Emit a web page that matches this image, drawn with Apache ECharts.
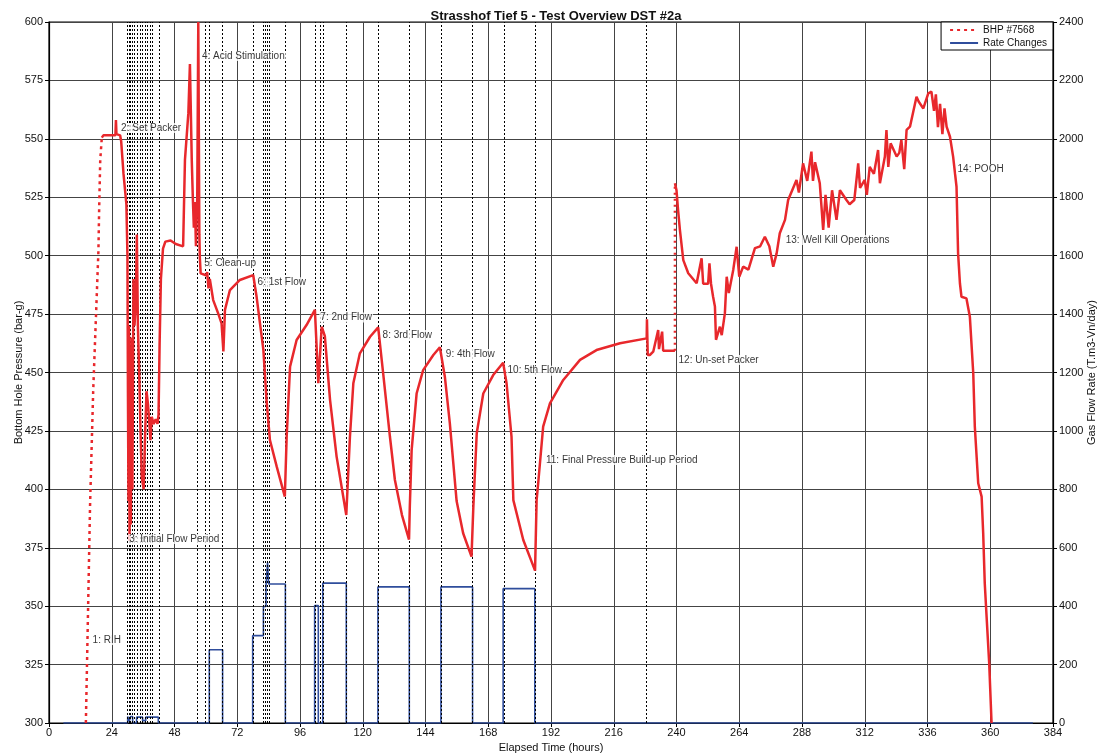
<!DOCTYPE html>
<html>
<head>
<meta charset="utf-8">
<script src="https://cdn.jsdelivr.net/npm/echarts@6/dist/echarts.min.js"></script>
<style>html,body{margin:0;padding:0;background:#fff;}#c{width:1102px;height:756px;}</style>
</head>
<body>
<div id="c"></div>
<script>
// ---- data (hours, bar-g) ----
const bhpRIH = [[14.1,300],[15.0,352],[15.7,393],[16.9,442],[18.2,481],[18.9,502],[19.2,521],[19.6,541],[20.2,550.5]];
const bhpTest = [[20.2,550.5],[20.8,551.5],[25.4,551.5],[25.6,558],[25.8,552],[27.2,551.5],[27.6,549],[28.5,535],[29.6,522],[30.0,500],[30.2,440],[30.4,395],[30.6,470],[30.8,378],[31.0,455],[31.3,385],[31.6,465],[31.9,400],[32.3,490],[32.7,470],[33.2,480],[33.6,509],[34.0,470],[34.5,450],[35.0,425],[35.5,405],[36.2,400],[36.8,425],[37.3,442],[37.9,436],[38.4,428],[38.8,421],[39.3,431],[40.0,428],[40.8,430],[41.5,428],[41.9,432],[42.3,462],[42.8,490],[43.6,503],[44.5,506],[46.5,506.5],[48.5,505],[51.3,504],[52.0,541],[53.3,561],[53.9,582],[54.6,541],[55.0,525],[55.4,512],[55.8,523],[56.2,504],[56.7,525],[57.1,600],[57.5,509],[57.7,499],[58.0,492.4],[60.3,491.5],[60.5,493],[61.0,486],[61.5,490],[62.8,481],[64.7,475.3],[66.0,471],[66.7,459],[67.3,476.8],[69.2,485.3],[73.0,489.6],[78.1,491.7],[79.4,482.4],[82.0,459.6],[83.2,438.2],[84.5,421.1],[87.1,409.7],[90.2,396.9],[90.9,422.5],[92.2,452.5],[94.7,463.9],[98.5,470.3],[101.7,476.8],[103.0,445.4],[104.3,469.6],[105.5,465.6],[107.5,438.2],[110.0,414],[113.7,389],[115.1,422.5],[116.4,445.4],[118.9,458.2],[122.8,465.3],[125.9,469.3],[127.8,449.7],[130.4,422.5],[132.3,404],[135.0,389],[137.7,378.5],[138.0,392.6],[138.7,416.8],[140.6,441],[143.1,451],[147.0,457.5],[149.5,460.8],[151.4,448.2],[153.3,428.3],[155.9,395],[158.4,381.2],[161.6,371.2],[162.3,392.6],[163.6,424],[166.1,441],[169.9,448.9],[173.7,454.2],[175.0,445.4],[176.9,422.5],[177.6,395.4],[181.4,378.3],[185.9,365.2],[186.5,395.4],[187.1,402.6],[189.0,426.8],[191.6,436.8],[196.7,446.8],[203.1,455.4],[209.4,459.6],[218.4,462.5],[228.6,464.6],[228.7,472.8],[229.0,457.5],[229.8,457.5],[231.1,458.9],[233.0,468.2],[233.3,460],[234.5,467.5],[234.9,459.3],[239.4,459.3]];
const bhpUnset = [[239.4,459.3],[239.4,531]];
const bhpKill = [[239.4,531],[240.0,528],[240.6,519.5],[241.3,511],[242.6,498.1],[244.5,492.5],[247.7,488.2],[249.6,498.9],[250.2,488],[252.1,488],[252.6,496.7],[253.2,488],[254.0,482.4],[254.7,478.2],[255.1,464],[256.6,469.6],[257.3,466],[258.5,475.3],[259.2,491],[260.0,484],[261.7,493.9],[263.0,503.8],[264.0,491],[265.5,495.3],[267.5,494],[270.0,503.2],[272.0,504],[273.8,508.1],[275.5,504],[277.0,495.3],[278.3,501],[279.5,509.6],[281.5,515.3],[282.7,523.8],[283.4,523.8],[285.9,532.4],[286.8,527],[288.4,539.5],[290.0,532],[291.6,544.5],[292.2,532],[293.0,540],[294.8,531],[296.1,511],[297.0,526],[298.2,512],[299.5,528],[301.2,515.3],[302.5,528],[305.0,523.8],[306.2,522],[308.0,523.8],[309.5,539.5],[310.2,529],[312.0,532.4],[312.8,526],[313.9,538],[315.5,535],[317.1,545.2],[317.8,531],[319.7,542.4],[320.3,553.8],[321.0,538],[321.9,548.1],[324.2,542.4],[325.2,544],[326.0,549.5],[327.1,537],[328.0,553.8],[329.3,555.2],[331.8,568],[332.6,566],[334.4,563],[336.3,569.5],[337.5,570.2],[338.5,562],[339.2,569],[340.0,555],[340.8,565],[341.7,552],[342.5,563],[343.3,555.2],[344.6,550.9],[345.8,542.4],[347.1,529.5],[347.7,501],[348.4,488.2],[349.0,482.4],[350.9,481.7],[352.2,473.9],[353.5,449.7],[354.1,426.8],[355.4,402.6],[356.7,396.9],[357.3,381.2],[357.9,359.8],[358.6,345.5],[359.6,325.5],[360.5,300]];

// ---- gas rate (hours, T.m3-Vn/day) ----
const rateChanges = [[5.5,0],[30.1,0],[30.1,22],[30.7,22],[30.7,6],[31.2,6],[31.2,22],[32.0,22],[32.0,0],[33.5,0],[33.5,20],[35.8,20],[35.8,8],[37.0,8],[37.0,20],[41.8,20],[41.8,0],
  [61.3,0],[61.3,251],[66.4,251],[66.4,0],
  [77.9,0],[77.9,299],[82.0,299],[82.0,399],[83.0,399],[83.0,471],[83.6,471],[83.6,550],[84.0,550],[84.0,476],[90.4,476],[90.4,0],
  [101.6,0],[101.6,402],[103.0,402],[103.0,0],[104.7,0],[104.7,479],[113.7,479],[113.7,0],
  [125.8,0],[125.8,466],[137.8,466],[137.8,0],[149.9,0],[149.9,466],[162.0,466],[162.0,0],[173.7,0],[173.7,460],[185.8,460],[185.8,0],[376.3,0]];

// ---- event markers ----
const eventHours = [30.0,30.6,31.2,31.9,32.5,33.8,34.8,35.7,37.0,37.6,38.9,39.5,42.1,56.7,59.9,61.3,66.4,78.1,82.0,82.6,83.5,84.3,90.4,101.7,103.6,104.9,113.8,125.9,137.7,150.0,162.0,174.0,186.0,228.6];
const eventLabels = ['1: RIH','2: Set Packer','3: Initial Flow Period','4: Acid Stimulation','5: Clean-up','6: 1st Flow','7: 2nd Flow','8: 3rd Flow','9: 4th Flow','10: 5th Flow','11: Final Pressure Build-up Period','12: Un-set Packer','13: Well Kill Operations','14: POOH'];
const labelHours = [16.3,27.2,30.3,58.1,59.0,79.4,103.4,127.2,151.4,175.0,189.7,240.4,281.4,347.1];
const labelBHP = [335.5,554.6,378.7,585.5,496.7,488.6,473.5,466.0,457.9,450.8,412.6,455.4,506.7,537.0];

// ---- axis ticks ----
const xTicks = {min:0, max:384, interval:24};
const yLeft = {min:300, max:600, interval:25};
const yRight = {min:0, max:2400, interval:200};

const FONT = '"Liberation Sans", Arial, sans-serif';
const RED = '#e8282c';
const BLUE = '#2f4d9c';
const plain = v => String(v);

const chart = echarts.init(document.getElementById('c'), null, {renderer:'canvas'});
const bhpStyle = {color: RED, width: 2.5};
chart.setOption({
  animation: false,
  backgroundColor: '#fff',
  title: {
    text: 'Strasshof Tief 5 - Test Overview DST #2a',
    left: 551, top: 5, textAlign: 'center',
    textStyle: {fontFamily: FONT, fontSize: 13, fontWeight: 'bold', color: '#111'}
  },
  legend: {
    data: ['BHP #7568', 'Rate Changes'],
    orient: 'vertical', right: 49, top: 22,
    backgroundColor: '#fff', borderColor: '#000', borderWidth: 1, borderRadius: 0,
    padding: [3, 6, 2, 8], itemGap: 3, itemWidth: 28, itemHeight: 9,
    itemStyle: {opacity: 0},
    textStyle: {fontFamily: FONT, fontSize: 10, color: '#111'}
  },
  grid: {left: 49, right: 49, top: 22, bottom: 33, show: true, borderColor: '#000', borderWidth: 1.2, containLabel: false, outerBoundsMode: 'none'},
  xAxis: {
    type: 'value', min: xTicks.min, max: xTicks.max, interval: xTicks.interval,
    name: 'Elapsed Time (hours)', nameLocation: 'middle', nameGap: 18,
    nameTextStyle: {fontFamily: FONT, fontSize: 11, color: '#111'},
    axisLine: {lineStyle: {color: '#000', width: 1.2}},
    axisTick: {show: true, inside: false, length: 4, lineStyle: {color: '#000'}},
    axisLabel: {fontFamily: FONT, fontSize: 11, color: '#111', margin: 4, formatter: plain},
    splitLine: {show: true, lineStyle: {color: '#444', width: 1}}
  },
  yAxis: [{
    type: 'value', min: yLeft.min, max: yLeft.max, interval: yLeft.interval,
    name: 'Bottom Hole Pressure (bar-g)', nameLocation: 'middle', nameGap: 25, nameRotate: 90,
    nameMoveOverlap: false,
    nameTextStyle: {fontFamily: FONT, fontSize: 11, color: '#111'},
    axisLine: {show: true, lineStyle: {color: '#000', width: 1.2}},
    axisTick: {show: true, length: 4, lineStyle: {color: '#000'}},
    axisLabel: {fontFamily: FONT, fontSize: 11, color: '#111', margin: 6, formatter: plain},
    splitLine: {show: true, lineStyle: {color: '#444', width: 1}}
  }, {
    type: 'value', min: yRight.min, max: yRight.max, interval: yRight.interval,
    position: 'right',
    name: 'Gas Flow Rate (T.m3-Vn/day)', nameLocation: 'middle', nameGap: 33, nameRotate: 90,
    nameMoveOverlap: false,
    nameTextStyle: {fontFamily: FONT, fontSize: 11, color: '#111'},
    axisLine: {show: true, lineStyle: {color: '#000', width: 1.2}},
    axisTick: {show: true, length: 4, lineStyle: {color: '#000'}},
    axisLabel: {fontFamily: FONT, fontSize: 11, color: '#111', margin: 6, formatter: plain},
    splitLine: {show: false}
  }],
  series: [
    {
      name: 'BHP #7568', type: 'line', yAxisIndex: 0, data: bhpRIH, symbol: 'none',
      lineStyle: {color: RED, width: 2.5, type: [3, 4]}, itemStyle: {color: RED}, z: 5
    },
    {
      name: 'Rate Changes', type: 'line', yAxisIndex: 1, data: rateChanges, symbol: 'none',
      lineStyle: {color: BLUE, width: 1.6}, itemStyle: {color: BLUE}, z: 3,
      markLine: {
        silent: true, symbol: ['none', 'none'], label: {show: false},
        lineStyle: {color: '#000', width: 1, type: [2, 2]},
        emphasis: {disabled: true},
        data: eventHours.map(h => ({xAxis: h}))
      }
    },
    {
      name: 'BHP #7568', type: 'line', yAxisIndex: 0, data: bhpTest, symbol: 'none',
      lineStyle: bhpStyle, itemStyle: {color: RED}, z: 5
    },
    {
      name: 'BHP #7568', type: 'line', yAxisIndex: 0, data: bhpUnset, symbol: 'none',
      lineStyle: {color: RED, width: 2.5, type: [2, 4]}, itemStyle: {color: RED}, z: 5
    },
    {
      name: 'BHP #7568', type: 'line', yAxisIndex: 0, data: bhpKill, symbol: 'none',
      lineStyle: bhpStyle, itemStyle: {color: RED}, z: 5
    },
    {
      name: 'events', type: 'scatter', yAxisIndex: 0, symbolSize: 0, silent: true, z: 10,
      data: labelHours.map((h, i) => [h, labelBHP[i], eventLabels[i]]),
      label: {
        show: true, position: 'right', distance: 0,
        formatter: p => p.data[2],
        fontFamily: FONT, fontSize: 10, color: '#000',
        backgroundColor: '#fff', padding: [0, 1, 0, 1]
      }
    }
  ]
});
</script>
</body>
</html>
